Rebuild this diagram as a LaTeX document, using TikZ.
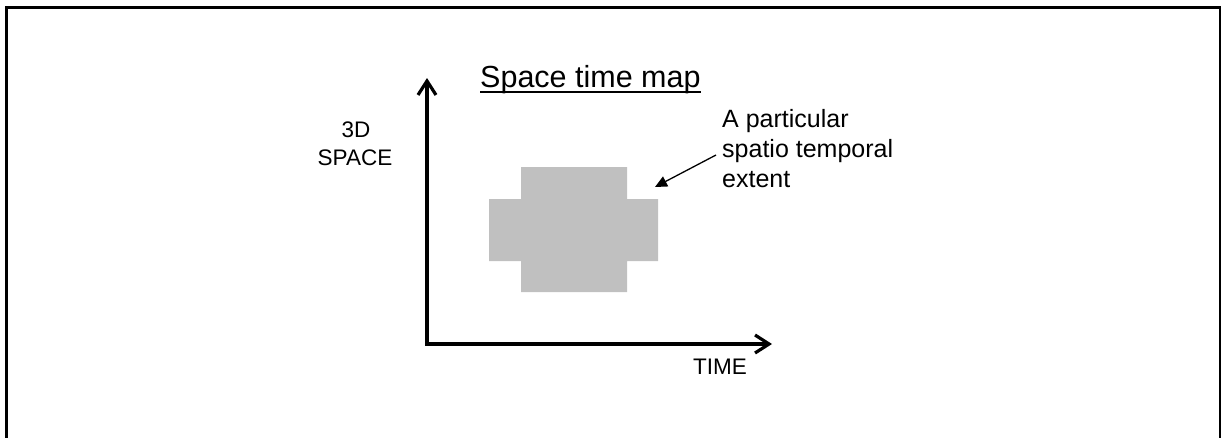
\documentclass[tikz,border=0pt]{standalone}
\usepackage{fontspec}
\setmainfont{Liberation Sans}
\usetikzlibrary{arrows.meta}
\begin{document}
\begin{tikzpicture}[x=1pt,y=-1pt,
  txt/.style={inner sep=0pt,anchor=base west,font=\fontsize{22.5}{30}\selectfont},
  note/.style={inner sep=0pt,anchor=base west,font=\fontsize{25}{30}\selectfont},
  axis/.style={line width=3.6pt,-{Straight Barb[length=14pt,width=18pt,line width=3.2pt]}},
  pointer/.style={line width=1.3pt,-{Triangle[length=12pt,width=11pt]}},
  region/.style={fill={rgb,255:red,192;green,192;blue,192},draw=none}]
\useasboundingbox (0,0) rectangle (1221,437);
% frame
\draw[line width=2.6pt] (6.7,440) -- (6.7,7.5) -- (1219.8,7.5) -- (1219.8,440);
% axes
\coordinate (origin) at (427,344);
\coordinate (ytip) at (427,78);
\coordinate (xtip) at (772,344);
\draw[axis] ([yshift=1.8pt]origin) -- (ytip);
\draw[axis] ([xshift=-1.8pt]origin) -- (xtip);
% title
\node[inner sep=0pt,anchor=base west,font=\fontsize{30.5}{36}\selectfont] (title) at (480,87) {Space time map};
\draw[line width=2pt] ([yshift=-5pt]title.base west) -- ([yshift=-5pt]title.base east);
% axis labels
\node[inner sep=0pt,anchor=base,font=\fontsize{22.5}{30}\selectfont] (lbl3d) at (356,137.5) {3D};
\node[inner sep=0pt,anchor=base,font=\fontsize{22.5}{30}\selectfont] (lblspace) at (355,165.7) {SPACE};
\node[txt] (lbltime) at (693,374) {TIME};
% region
\path[region] (521,167) -- (627,167) -- (627,199) -- (658,199) -- (658,261) -- (627,261)
  -- (627,292) -- (521,292) -- (521,261) -- (489,261) -- (489,199) -- (521,199) -- cycle;
\coordinate (regtip) at (655,187);
% annotation
\node[note] (ext1) at (722,127) {A particular};
\node[note] (ext2) at (722,157) {spatio temporal};
\node[note] (ext3) at (722,187) {extent};
\draw[pointer] ([xshift=-6pt,yshift=2pt]ext2.base west) -- (regtip);
\end{tikzpicture}
\end{document}
